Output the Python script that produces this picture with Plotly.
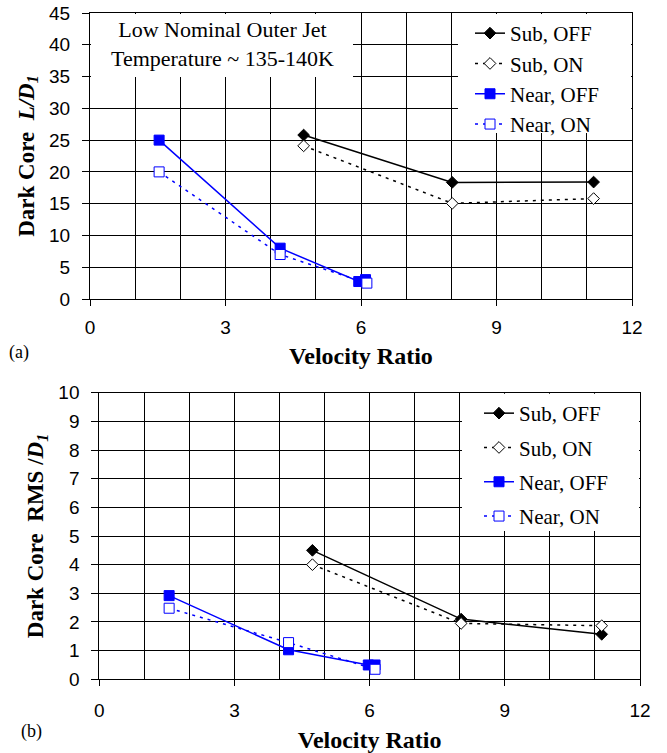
import plotly.graph_objects as go

W, H = 667, 753

# ---------------- data ----------------
series_names = ["Sub, OFF", "Sub, ON", "Near, OFF", "Near, ON"]

# (a) Dark core length L/D1
sub_off_x_a = [4.73, 8.02, 11.15]
sub_off_y_a = [25.8, 18.35, 18.4]
sub_on_x_a = [4.73, 8.02, 11.15]
sub_on_y_a = [24.1, 15.05, 15.8]
near_off_x_a = [1.53, 4.21, 5.95, 6.1]
near_off_y_a = [25.0, 8.0, 2.75, 3.05]
near_on_x_a = [1.53, 4.21, 6.13]
near_on_y_a = [20.0, 7.0, 2.5]

# (b) Dark core RMS / D1
sub_off_x_b = [4.73, 8.03, 11.15]
sub_off_y_b = [4.5, 2.1, 1.57]
sub_on_x_b = [4.73, 8.03, 11.15]
sub_on_y_b = [4.0, 1.95, 1.87]
near_off_x_b = [1.55, 4.2, 5.97, 6.12]
near_off_y_b = [2.92, 1.03, 0.5, 0.5]
near_on_x_b = [1.55, 4.2, 6.12]
near_on_y_b = [2.48, 1.28, 0.35]

x_ticks = [0, 3, 6, 9, 12]

SERIF = "Liberation Serif, Times New Roman, serif"
SANS = "Liberation Sans, Arial, sans-serif"
BLUE = "#0000FF"

styles = [
    dict(line=dict(color="black", width=1.5),
         marker=dict(symbol="diamond", size=9, color="black", line=dict(color="black", width=1))),
    dict(line=dict(color="black", width=1.5, dash="3px,5px"),
         marker=dict(symbol="diamond", size=9, color="white", line=dict(color="black", width=1))),
    dict(line=dict(color=BLUE, width=1.5),
         marker=dict(symbol="square", size=10, color=BLUE, line=dict(color=BLUE, width=1))),
    dict(line=dict(color=BLUE, width=1.5, dash="3px,5px"),
         marker=dict(symbol="square", size=10, color="white", line=dict(color=BLUE, width=1))),
]

fig = go.Figure()

panel_a = [(sub_off_x_a, sub_off_y_a), (sub_on_x_a, sub_on_y_a),
           (near_off_x_a, near_off_y_a), (near_on_x_a, near_on_y_a)]
panel_b = [(sub_off_x_b, sub_off_y_b), (sub_on_x_b, sub_on_y_b),
           (near_off_x_b, near_off_y_b), (near_on_x_b, near_on_y_b)]

for i, (xs, ys) in enumerate(panel_a):
    fig.add_trace(go.Scatter(x=xs, y=ys, mode="lines+markers", name=series_names[i],
                             xaxis="x", yaxis="y", legend="legend",
                             legendgroup=f"a{i}", **styles[i]))
for i, (xs, ys) in enumerate(panel_b):
    fig.add_trace(go.Scatter(x=xs, y=ys, mode="lines+markers", name=series_names[i],
                             xaxis="x2", yaxis="y2", legend="legend2",
                             legendgroup=f"b{i}", **styles[i]))

def px_x(p):
    return p / W

def px_y(p):
    return 1 - p / H

# plot area pixel boxes
A = dict(l=90, r=632, t=13, b=299)
B = dict(l=99.3, r=640, t=392.7, b=679.3)

common_x = dict(range=[0, 12], tickvals=x_ticks, ticks="outside", ticklen=6, tickcolor="black",
                showgrid=True, gridcolor="black", gridwidth=1, automargin=False,
                minor=dict(dtick=1, showgrid=True, gridcolor="black", gridwidth=1, ticks=""),
                showline=True, linecolor="black", linewidth=1, mirror=True,
                zeroline=False, tickfont=dict(family=SANS, size=19, color="black"))
common_y = dict(ticks="outside", ticklen=7, tickcolor="black", automargin=False,
                showgrid=True, gridcolor="black", gridwidth=1,
                showline=True, linecolor="black", linewidth=1, mirror=True,
                zeroline=False, tickfont=dict(family=SANS, size=19, color="black"))

fig.update_layout(
    template="none",
    width=W, height=H,
    margin=dict(l=0, r=0, t=0, b=0),
    paper_bgcolor="white", plot_bgcolor="white",
    showlegend=True,
    xaxis=dict(common_x, domain=[px_x(A["l"]), px_x(A["r"])], anchor="y",
               ticklabelstandoff=5,
               title=dict(text="<b>Velocity Ratio</b>", standoff=10,
                          font=dict(family=SERIF, size=24, color="black"))),
    yaxis=dict(common_y, domain=[px_y(A["b"]), px_y(A["t"])], anchor="x",
               range=[0, 45], dtick=5, ticklabelstandoff=8,
               title=dict(text="<b>Dark Core  <i>L/D<sub>1</sub></i></b>", standoff=8,
                          font=dict(family=SERIF, size=23, color="black"))),
    xaxis2=dict(common_x, domain=[px_x(B["l"]), px_x(B["r"])], anchor="y2",
                ticklabelstandoff=8,
                title=dict(text="<b>Velocity Ratio</b>", standoff=12,
                           font=dict(family=SERIF, size=24, color="black"))),
    yaxis2=dict(common_y, domain=[px_y(B["b"]), px_y(B["t"])], anchor="x2",
                range=[0, 10], dtick=1, ticklabelstandoff=8,
                title=dict(text="<b>Dark Core  RMS /<i>D<sub>1</sub></i></b>", standoff=8,
                           font=dict(family=SERIF, size=23, color="black"))),
    legend=dict(x=px_x(470), y=px_y(13), xanchor="left", yanchor="top",
                bgcolor="rgba(0,0,0,0)", borderwidth=0, tracegroupgap=0,
                font=dict(family=SERIF, size=21, color="black")),
    legend2=dict(x=px_x(479), y=px_y(393), xanchor="left", yanchor="top",
                 bgcolor="rgba(0,0,0,0)", borderwidth=0, tracegroupgap=4,
                 font=dict(family=SERIF, size=21, color="black")),
)

# white boxes behind the legends / note (cover gridlines)
shapes = [
    dict(type="rect", xref="paper", yref="paper", layer="above",
         x0=px_x(458), x1=px_x(631), y0=px_y(133), y1=px_y(14),
         fillcolor="white", line=dict(width=0)),
    dict(type="rect", xref="paper", yref="paper", layer="above",
         x0=px_x(462), x1=px_x(639), y0=px_y(531), y1=px_y(393.7),
         fillcolor="white", line=dict(width=0)),
    dict(type="rect", xref="paper", yref="paper", layer="above",
         x0=px_x(91), x1=px_x(353), y0=px_y(77), y1=px_y(14),
         fillcolor="white", line=dict(width=0)),
]
fig.update_layout(shapes=shapes)

fig.add_annotation(xref="paper", yref="paper", x=px_x(222), y=px_y(44),
                   xanchor="center", yanchor="middle", showarrow=False,
                   text="Low Nominal Outer Jet<br>Temperature ~ 135-140K",
                   font=dict(family=SERIF, size=22, color="black"))
fig.add_annotation(xref="paper", yref="paper", x=px_x(19), y=px_y(352),
                   xanchor="center", yanchor="middle", showarrow=False,
                   text="(a)", font=dict(family=SERIF, size=18, color="black"))
fig.add_annotation(xref="paper", yref="paper", x=px_x(31), y=px_y(731),
                   xanchor="center", yanchor="middle", showarrow=False,
                   text="(b)", font=dict(family=SERIF, size=18, color="black"))

fig.write_html("out.html", config={"displayModeBar": False},
               post_script="document.body.style.margin='0px';document.body.style.overflow='hidden';")
